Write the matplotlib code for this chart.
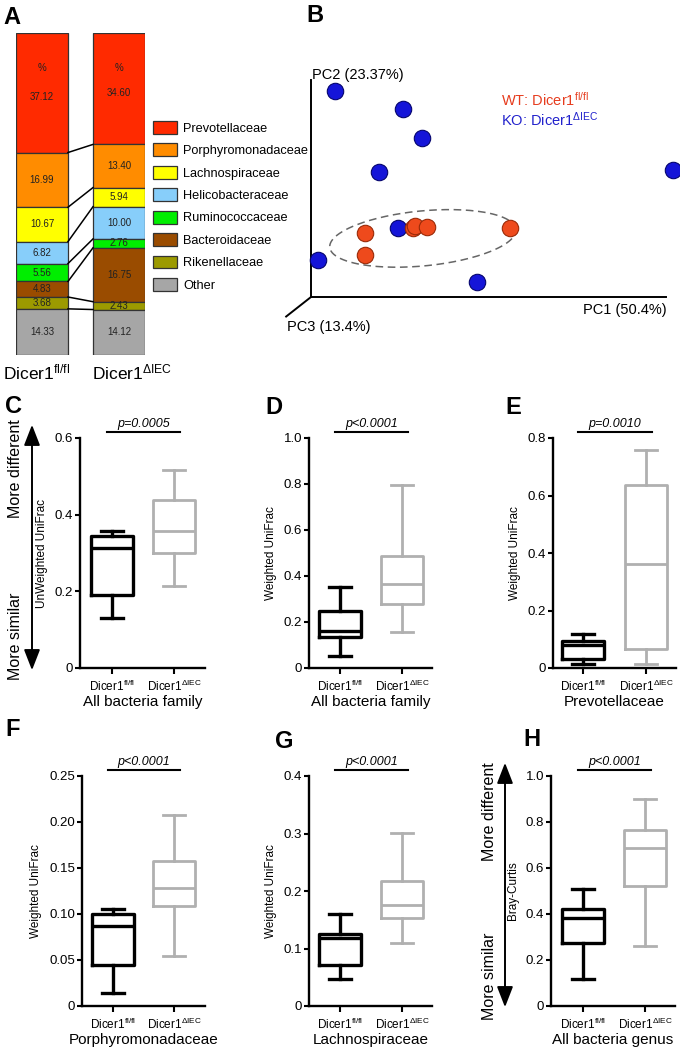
import numpy as np
import matplotlib
matplotlib.use('Agg')
import matplotlib.pyplot as plt
from matplotlib.patches import Patch
from matplotlib.ticker import MultipleLocator, FuncFormatter

plt.rcParams['font.family'] = ['Liberation Sans', 'DejaVu Sans']
plt.rcParams['mathtext.fontset'] = 'custom'
plt.rcParams['mathtext.rm'] = 'Liberation Sans'
plt.rcParams['mathtext.it'] = 'Liberation Sans:italic'

# --- Panel A: family composition (%) ---
FAMILIES = ['Prevotellaceae', 'Porphyromonadaceae', 'Lachnospiraceae', 'Helicobacteraceae',
            'Ruminococcaceae', 'Bacteroidaceae', 'Rikenellaceae', 'Other']
FAMILY_COLORS = ['#ff2a00', '#ff8c00', '#ffff00', '#87cefa',
                 '#00ee00', '#9a4c00', '#9c9a00', '#a6a6a6']
PCT_WT = [37.12, 16.99, 10.67, 6.82, 5.56, 4.83, 3.68, 14.33]
PCT_KO = [34.60, 13.40, 5.94, 10.00, 2.76, 16.75, 2.43, 14.12]
GROUPS = [r'Dicer1$^{\mathregular{fl/fl}}$', r'Dicer1$^{\mathregular{ΔIEC}}$']

# --- Panel B: PCoA scores (PC1, PC2 on 0-100 display scale) ---
PC_WT_X = [15.2, 15.2, 28.7, 29.3, 32.7, 56.1]
PC_WT_Y = [29.5, 19.4, 31.8, 32.7, 32.3, 31.8]
PC_KO_X = [6.8, 25.9, 31.3, 19.2, 102.0, 24.5, 2.0, 46.8]
PC_KO_Y = [94.9, 86.6, 73.3, 57.6, 58.5, 31.8, 17.1, 6.9]
PC_LABELS = ['PC1 (50.4%)', 'PC2 (23.37%)', 'PC3 (13.4%)']

# --- Panels C-H: box stats [whislo, q1, med, q3, whishi] ---
C_WT = [0.130, 0.190, 0.313, 0.345, 0.358]
C_KO = [0.214, 0.300, 0.358, 0.437, 0.517]
D_WT = [0.052, 0.135, 0.160, 0.248, 0.352]
D_KO = [0.157, 0.278, 0.365, 0.486, 0.794]
E_WT = [0.014, 0.031, 0.080, 0.094, 0.118]
E_KO = [0.014, 0.066, 0.362, 0.638, 0.760]
F_WT = [0.0145, 0.0445, 0.087, 0.100, 0.105]
F_KO = [0.054, 0.109, 0.128, 0.158, 0.208]
G_WT = [0.047, 0.072, 0.1175, 0.125, 0.160]
G_KO = [0.109, 0.153, 0.175, 0.218, 0.301]
H_WT = [0.117, 0.276, 0.381, 0.421, 0.508]
H_KO = [0.260, 0.521, 0.685, 0.764, 0.902]

P_TEXT = ['p=0.0005', 'p<0.0001', 'p=0.0010', 'p<0.0001', 'p<0.0001', 'p<0.0001']
Y_LABELS = ['UnWeighted UniFrac', 'Weighted UniFrac', 'Weighted UniFrac',
            'Weighted UniFrac', 'Weighted UniFrac', 'Bray-Curtis']
X_LABELS = ['All bacteria family', 'All bacteria family', 'Prevotellaceae',
            'Porphyromonadaceae', 'Lachnospiraceae', 'All bacteria genus']
Y_MAX = [0.6, 1.0, 0.8, 0.25, 0.4, 1.0]
Y_STEP = [0.2, 0.2, 0.2, 0.05, 0.1, 0.2]

W, H = 680, 1049
fig = plt.figure(figsize=(W / 100, H / 100), dpi=100)


def rect(x0, y0, x1, y1):
    return [x0 / W, 1 - y1 / H, (x1 - x0) / W, (y1 - y0) / H]


def fxy(x, y):
    return (x / W, 1 - y / H)


def letter(s, x, y):
    fig.text(*fxy(x, y), s, fontsize=17, fontweight='bold', ha='left', va='center')


# ==========================================
# A: stacked composition bars
# ==========================================
bw = 0.675
axA = fig.add_axes(rect(16, 33, 145, 355))
axA.set_xlim(-bw / 2, 1 + bw / 2)
axA.set_ylim(100, 0)
axA.axis('off')
for i, pct in enumerate([PCT_WT, PCT_KO]):
    bottoms = np.concatenate([[0], np.cumsum(pct)[:-1]])
    axA.bar(i, pct, bottom=bottoms, width=bw, color=FAMILY_COLORS,
            edgecolor='#333333', linewidth=0.9)
    for j, (b, v) in enumerate(zip(bottoms, pct)):
        yy = b + v / 2 + (1.2 if j == 0 else 0)
        axA.text(i, yy, f'{v:.2f}', ha='center', va='center', fontsize=7, color='#222222')
    axA.text(i, 11, '%', ha='center', va='center', fontsize=7, color='#222222')
    axA.text([-0.065, 1.17][i], 105.5, GROUPS[i], ha='center', va='center',
             fontsize=12.5, clip_on=False)
cum_wt = np.cumsum(PCT_WT)[:-1]
cum_ko = np.cumsum(PCT_KO)[:-1]
for a, b in zip(cum_wt, cum_ko):
    axA.plot([bw / 2, 1 - bw / 2], [a, b], color='black', lw=1.1)

handles = [Patch(facecolor=c, edgecolor='#333333', lw=0.9) for c in FAMILY_COLORS]
fig.legend(handles, FAMILIES, loc='upper left', bbox_to_anchor=fxy(153, 121),
           frameon=False, fontsize=9.2, handlelength=1.9, handleheight=1.17,
           labelspacing=0.68, handletextpad=0.45, borderpad=0, borderaxespad=0)
letter('A', 3, 17)

# ==========================================
# B: PCoA
# ==========================================
sx, sy = 3.55, 2.17
axB = fig.add_axes(rect(285, 60, 680, 335))
axB.set_xlim(-26 / sx, 369 / sx)
axB.set_ylim(-38 / sy, 237 / sy)
axB.axis('off')
axB.plot([0, 100], [0, 0], color='black', lw=1.4)
axB.plot([0, 0], [0, 100], color='black', lw=1.4)
axB.plot([0, -7.0], [0, -9.0], color='black', lw=1.4, clip_on=False)

# dashed ellipse around WT cluster (drawn in pixel space, then scaled)
t = np.linspace(0, 2 * np.pi, 200)
a_px, b_px, th = 93.5, 27.5, np.deg2rad(5.5)
ex = 31.5 + (a_px * np.cos(t) * np.cos(th) - b_px * np.sin(t) * np.sin(th)) / sx
ey = 27.0 + (a_px * np.cos(t) * np.sin(th) + b_px * np.sin(t) * np.cos(th)) / sy
axB.plot(ex, ey, color='#666666', lw=1.1, ls=(0, (5, 3)))

axB.scatter(PC_KO_X, PC_KO_Y, s=140, color='#1515d8', edgecolors='#05056e',
            linewidths=0.8, zorder=3, clip_on=False)
axB.scatter(PC_WT_X, PC_WT_Y, s=140, color='#ee4a1c', edgecolors='#9a2a08',
            linewidths=0.8, zorder=4, clip_on=False)

axB.text(0.3, 102.3, PC_LABELS[1], fontsize=10.5, ha='left', va='center')
axB.text(100.3, -6.0, PC_LABELS[0], fontsize=10.5, ha='right', va='center')
axB.text(-6.8, -13.8, PC_LABELS[2], fontsize=10.5, ha='left', va='center', clip_on=False)
axB.text(53.5, 90.8, r'WT: Dicer1$^{\mathregular{fl/fl}}$', color='#e63c1e',
         fontsize=10.5, ha='left', va='center')
axB.text(53.5, 81.6, r'KO: Dicer1$^{\mathregular{ΔIEC}}$', color='#2222cc',
         fontsize=10.5, ha='left', va='center')
letter('B', 306, 15)

# ==========================================
# C-H: box plots
# ==========================================
BOX_AXES = [(80, 438, 205, 668, 112, 174), (309, 438, 432, 668, 340, 402),
            (553, 438, 676, 668, 583, 646), (82, 776, 205, 1006, 113, 174),
            (309, 776, 432, 1006, 340, 402), (551, 776, 675, 1006, 583, 645)]
BOX_DATA = [(C_WT, C_KO), (D_WT, D_KO), (E_WT, E_KO),
            (F_WT, F_KO), (G_WT, G_KO), (H_WT, H_KO)]
LETTERS = [('C', 5, 406), ('D', 265, 407), ('E', 505, 407),
           ('F', 5, 729), ('G', 275, 742), ('H', 523, 740)]


def fmt_factory(dec):
    return FuncFormatter(lambda v, p: '0' if abs(v) < 1e-9 else f'{v:.{dec}f}')


for k, ((l, tp, r, bt, t1, t2), (wt, ko)) in enumerate(zip(BOX_AXES, BOX_DATA)):
    ax = fig.add_axes(rect(l, tp, r, bt))
    unit = t2 - t1
    ax.set_xlim(1 - (t1 - l) / unit, 2 + (r - t2) / unit)
    ymax = Y_MAX[k]
    ax.set_ylim(0, ymax)
    for pos, vals, col, lw in [(1, wt, 'black', 2.4), (2, ko, '#b0b0b0', 2.0)]:
        st = [dict(whislo=vals[0], q1=vals[1], med=vals[2], q3=vals[3],
                   whishi=vals[4], fliers=[])]
        props = dict(color=col, lw=lw)
        ax.bxp(st, positions=[pos], widths=0.68, capwidths=0.36, showfliers=False,
               boxprops=props, whiskerprops=props, capprops=props,
               medianprops=props, manage_ticks=False)
    for s in ['top', 'right']:
        ax.spines[s].set_visible(False)
    for s in ['left', 'bottom']:
        ax.spines[s].set_linewidth(1.7)
    ax.yaxis.set_major_locator(MultipleLocator(Y_STEP[k]))
    ax.yaxis.set_major_formatter(fmt_factory(2 if Y_STEP[k] < 0.1 else 1))
    ax.tick_params(axis='y', length=3.5, width=1.5, labelsize=9.5, pad=1.5)
    ax.tick_params(axis='x', length=4, width=1.5, labelsize=8.5, pad=4)
    ax.set_xticks([1, 2])
    ax.set_xticklabels(GROUPS)
    ax.set_ylabel(Y_LABELS[k], fontsize=8.5, labelpad=5)
    ax.set_xlabel(X_LABELS[k], fontsize=11, labelpad=0.5)
    ax.plot([0.92, 2.1], [ymax * 1.027] * 2, color='black', lw=1.5, clip_on=False)
    ax.text(1.51, ymax * 1.062, P_TEXT[k], fontsize=9, style='italic',
            ha='center', va='center')
    letter(*LETTERS[k])

# side arrows (C and H)
for (x, y0, y1, tx, ty_top, ty_bot) in [(32, 422, 673, 16, 469, 636),
                                        (505, 760, 1010, 489, 812, 976)]:
    fig.add_artist(matplotlib.patches.FancyArrowPatch(
        fxy(x, y1), fxy(x, y0), transform=fig.transFigure,
        arrowstyle='<|-|>,head_length=0.9,head_width=0.35', mutation_scale=14,
        lw=1.4, color='black'))
    fig.text(*fxy(tx, ty_top), 'More different', rotation=90, fontsize=11.5,
             ha='center', va='center')
    fig.text(*fxy(tx, ty_bot), 'More similar', rotation=90, fontsize=11.5,
             ha='center', va='center')

fig.savefig('out.png', dpi=100)
